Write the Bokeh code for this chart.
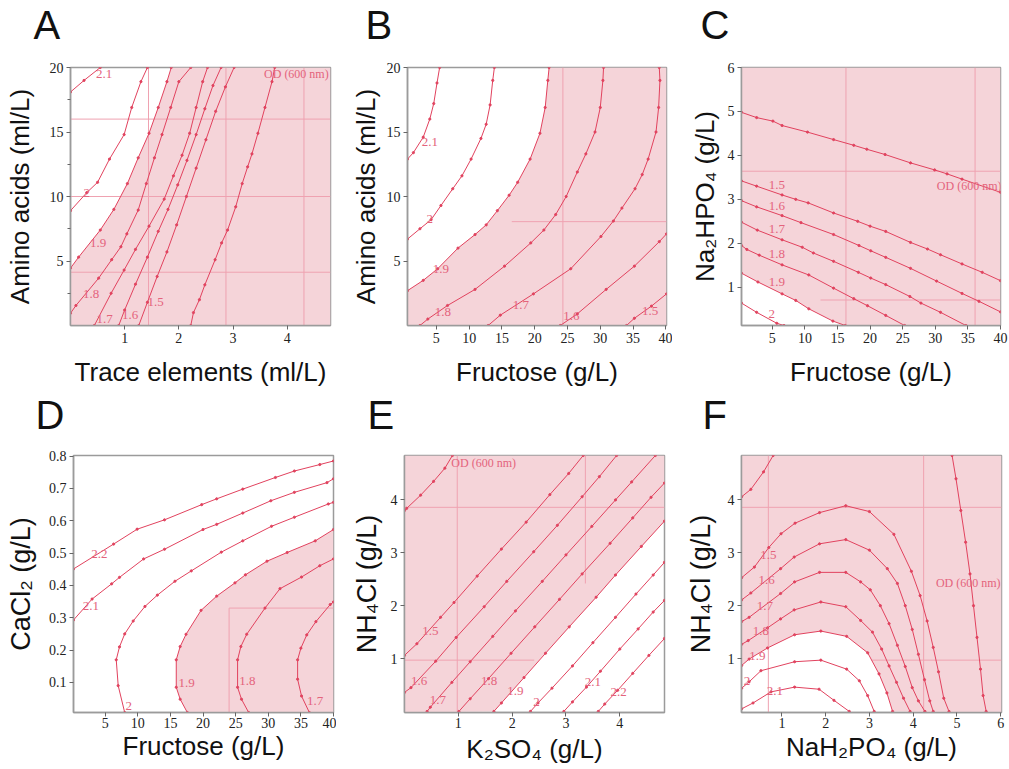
from bokeh.plotting import figure
from bokeh.layouts import column, row
from bokeh.models import Range1d, FixedTicker
from bokeh.core.properties import value
from bokeh.embed import file_html
from bokeh.resources import INLINE

# ---------------------------------------------------------------- data
# Each contour is a list of (x, y) points on an OD(600 nm) iso-line.

# A: trace elements (ml/L) vs amino acids (ml/L)
A_OD21 = [(0.0, 18.1), (0.25, 19.0), (0.55, 20.0)]
A_OD20 = [(0.0, 8.9), (0.3, 10.3), (0.5, 11.1), (0.72, 12.9), (0.99, 14.8), (1.13, 16.9), (1.30, 18.9), (1.42, 20.0)]
A_OD19 = [(0.0, 4.45), (0.15, 5.3), (0.55, 7.4), (0.8, 9.0), (1.05, 11.0), (1.25, 13.0), (1.45, 14.9), (1.62, 16.9), (1.78, 18.9), (1.86, 20.0)]
A_OD18 = [(0.0, 0.95), (0.1, 1.55), (0.52, 3.67), (0.76, 5.1), (0.93, 6.1), (1.04, 7.1), (1.25, 8.95), (1.40, 11.0), (1.55, 13.0), (1.69, 14.8), (1.85, 16.9), (2.0, 18.9), (2.22, 20.0)]
A_OD17 = [(0.44, 0.0), (0.75, 2.5), (0.99, 4.3), (1.2, 5.9), (1.45, 7.7), (1.73, 9.8), (1.9, 11.6), (2.06, 13.2), (2.2, 14.9), (2.32, 16.9), (2.44, 18.9), (2.53, 20.0)]
A_OD16 = [(0.89, 0.0), (1.0, 1.2), (1.2, 3.2), (1.42, 5.3), (1.62, 7.3), (1.8, 9.0), (1.98, 10.9), (2.15, 12.8), (2.32, 14.8), (2.48, 16.8), (2.63, 18.6), (2.78, 20.0)]
A_OD15 = [(1.26, 0.0), (1.42, 1.8), (1.6, 3.8), (1.78, 5.7), (1.96, 7.8), (2.14, 10.0), (2.32, 12.2), (2.5, 14.4), (2.68, 16.6), (2.86, 18.5), (3.02, 20.0)]
A_OD14 = [(2.22, 0.0), (2.27, 1.0), (2.38, 2.0), (2.48, 3.15), (2.67, 5.1), (2.79, 6.4), (2.9, 7.4), (3.05, 9.2), (3.17, 11.0), (3.27, 12.3), (3.35, 13.3), (3.46, 14.9), (3.59, 16.9), (3.72, 18.9), (3.77, 20.0)]

# B: fructose (g/L) vs amino acids (ml/L)
B_OD21 = [(0.6, 12.9), (1.5, 13.4), (3.0, 14.6), (4.0, 16.0), (4.6, 17.2), (5.1, 18.8), (5.5, 20.0)]
B_OD20 = [(0.6, 6.7), (2.5, 7.5), (4.2, 8.2), (5.7, 9.3), (7.5, 10.6), (8.9, 11.6), (10.3, 12.9), (11.8, 14.5), (12.6, 15.6), (13.2, 17.1), (13.6, 19.0), (13.85, 20.0)]
B_OD19 = [(0.6, 2.7), (3.0, 3.5), (5.2, 4.4), (8.3, 6.0), (10.9, 7.05), (12.6, 7.8), (14.3, 8.9), (16.1, 10.1), (17.4, 11.1), (19.3, 12.9), (20.8, 14.9), (21.6, 16.9), (22.0, 19.0), (22.2, 20.0)]
B_OD18 = [(2.5, 0.0), (3.7, 0.5), (6.7, 1.55), (10.9, 2.8), (15.4, 4.6), (19.4, 6.4), (21.4, 7.4), (23.2, 8.6), (24.8, 10.0), (26.5, 11.9), (27.8, 13.3), (29.2, 15.0), (30.0, 16.9), (30.4, 19.0), (30.5, 20.0)]
B_OD17 = [(12.9, 0.0), (14.75, 0.8), (19.8, 2.45), (25.5, 4.4), (30.1, 6.9), (32.0, 8.1), (33.3, 9.1), (35.3, 10.6), (36.4, 11.7), (37.3, 12.9), (38.5, 15.0), (38.9, 16.9), (39.1, 19.0), (39.0, 20.0)]
B_OD16 = [(23.9, 0.0), (26.5, 0.9), (30.9, 2.8), (35.2, 4.6), (39.0, 6.5), (40.1, 7.1)]
B_OD15 = [(34.0, 0.0), (35.2, 0.56), (37.8, 1.5), (40.1, 2.45)]

# C: fructose (g/L) vs Na2HPO4 (g/L)
C_OD14 = [(0.28, 4.98), (2.6, 4.86), (5.1, 4.78), (6.5, 4.68), (10.4, 4.53), (14.4, 4.36), (17.5, 4.23), (19.5, 4.14), (22.3, 4.02), (26.2, 3.83), (29.9, 3.67), (31.8, 3.58), (34.1, 3.46), (40.0, 3.16)]
C_OD15 = [(0.28, 3.42), (2.6, 3.3), (6.5, 3.1), (8.6, 3.0), (10.5, 2.92), (14.4, 2.69), (18.1, 2.5), (20.0, 2.39), (22.4, 2.27), (26.2, 2.02), (28.8, 1.87), (30.8, 1.74), (34.1, 1.53), (37.2, 1.34), (40.0, 1.15)]
C_OD16 = [(0.28, 2.97), (2.6, 2.83), (6.5, 2.63), (9.4, 2.47), (14.4, 2.2), (18.3, 1.95), (20.1, 1.83), (22.4, 1.68), (26.2, 1.43), (30.2, 1.14), (34.1, 0.86), (36.7, 0.68), (40.0, 0.44)]
C_OD17 = [(0.28, 2.48), (2.7, 2.3), (6.5, 2.08), (9.6, 1.91), (11.3, 1.78), (14.4, 1.59), (18.2, 1.34), (20.1, 1.21), (22.4, 1.06), (26.1, 0.79), (27.8, 0.64), (30.8, 0.43), (34.7, 0.13)]
C_OD18 = [(0.28, 1.95), (1.1, 1.86), (3.0, 1.73), (6.5, 1.51), (10.6, 1.28), (14.4, 0.98), (17.5, 0.74), (19.6, 0.58), (22.4, 0.36), (25.3, 0.13)]
C_OD19 = [(0.28, 1.32), (2.8, 1.12), (6.5, 0.85), (8.6, 0.7), (10.6, 0.51), (14.3, 0.23), (16.2, 0.13)]
C_OD20 = [(0.28, 0.64), (2.6, 0.43), (5.7, 0.18), (6.8, 0.13)]

# D: fructose (g/L) vs CaCl2 (g/L)
D_OD22 = [(0.15, 0.451), (6.3, 0.528), (9.9, 0.574), (14.1, 0.603), (19.8, 0.65), (22.1, 0.668), (26.1, 0.698), (31.1, 0.734), (34.0, 0.754), (37.9, 0.774), (40.0, 0.785)]
D_OD21 = [(0.15, 0.293), (3.0, 0.358), (6.0, 0.405), (7.2, 0.425), (10.9, 0.482), (14.1, 0.512), (20.0, 0.573), (22.1, 0.589), (26.1, 0.624), (30.4, 0.662), (34.0, 0.688), (39.0, 0.718), (40.0, 0.73)]
D_OD20 = [(8.0, 0.007), (7.0, 0.09), (6.7, 0.17), (7.2, 0.21), (8.0, 0.25), (9.3, 0.29), (11.1, 0.335), (13.0, 0.37), (15.7, 0.413), (18.2, 0.445), (22.8, 0.503), (26.1, 0.538), (30.5, 0.583), (34.0, 0.611), (39.2, 0.652), (40.0, 0.657)]
D_OD19 = [(17.6, 0.007), (16.5, 0.048), (15.9, 0.085), (15.9, 0.17), (16.5, 0.211), (17.4, 0.249), (19.7, 0.323), (22.1, 0.367), (24.9, 0.408), (26.5, 0.433), (29.8, 0.475), (32.9, 0.502), (37.2, 0.538), (40.0, 0.573)]
D_OD18 = [(27.0, 0.007), (25.9, 0.048), (25.3, 0.085), (25.3, 0.17), (25.8, 0.211), (26.7, 0.249), (29.5, 0.33), (31.8, 0.39), (35.1, 0.426), (37.9, 0.461), (40.0, 0.482)]
D_OD17 = [(36.3, 0.007), (35.1, 0.058), (34.5, 0.11), (34.5, 0.17), (35.0, 0.206), (35.9, 0.247), (37.3, 0.288), (39.5, 0.341), (40.0, 0.349)]

# E: K2SO4 (g/L) vs NH4Cl (g/L)
E_OD14 = [(0.0, 3.8), (0.04, 3.84), (0.30, 4.09), (0.54, 4.35), (0.75, 4.6), (0.89, 4.84)]
E_OD15 = [(0.0, 1.06), (0.23, 1.28), (0.67, 1.78), (0.92, 2.06), (1.35, 2.56), (1.80, 3.07), (2.26, 3.58), (2.70, 4.10), (3.05, 4.50), (3.32, 4.84)]
E_OD16 = [(0.0, 0.36), (0.12, 0.45), (0.58, 0.95), (0.96, 1.40), (1.48, 1.98), (1.90, 2.46), (2.40, 3.02), (2.84, 3.52), (3.30, 4.06), (3.62, 4.44), (3.94, 4.84)]
E_OD17 = [(0.42, 0.0), (0.48, 0.08), (0.88, 0.55), (1.22, 0.94), (1.64, 1.42), (2.06, 1.90), (2.56, 2.46), (3.00, 2.96), (3.48, 3.50), (3.92, 4.00), (4.22, 4.34), (4.66, 4.84)]
E_OD18 = [(1.01, 0.0), (1.22, 0.24), (1.56, 0.62), (1.98, 1.10), (2.42, 1.60), (2.88, 2.12), (3.30, 2.60), (3.82, 3.18), (4.24, 3.66), (4.58, 4.05), (4.83, 4.32)]
E_OD19 = [(1.66, 0.0), (1.80, 0.16), (2.22, 0.64), (2.62, 1.10), (3.06, 1.60), (3.56, 2.16), (3.92, 2.58), (4.40, 3.12), (4.83, 3.60)]
E_OD20 = [(2.34, 0.0), (2.48, 0.16), (2.74, 0.44), (3.12, 0.86), (3.50, 1.30), (3.92, 1.78), (4.30, 2.22), (4.62, 2.58), (4.83, 2.82)]
E_OD21 = [(2.96, 0.0), (3.12, 0.18), (3.38, 0.46), (3.64, 0.76), (4.00, 1.18), (4.34, 1.56), (4.62, 1.88), (4.83, 2.10)]
E_OD22 = [(3.60, 0.0), (3.72, 0.14), (3.96, 0.40), (4.24, 0.72), (4.54, 1.06), (4.83, 1.38)]

# F: NaH2PO4 (g/L) vs NH4Cl (g/L)
F_OD14A = [(0.08, 4.06), (0.29, 4.2), (0.58, 4.53), (0.80, 4.84)]
F_OD14B = [(4.89, 4.84), (4.98, 4.4), (5.09, 3.8), (5.2, 3.2), (5.3, 2.6), (5.38, 2.0), (5.46, 1.4), (5.54, 0.8), (5.6, 0.3), (5.67, 0.0)]
F_OD15 = [(0.08, 2.53), (0.37, 2.73), (0.7, 3.1), (0.98, 3.36), (1.3, 3.56), (1.86, 3.76), (2.46, 3.89), (3.0, 3.78), (3.56, 3.35), (3.96, 2.65), (4.16, 2.19), (4.32, 1.71), (4.46, 1.21), (4.58, 0.75), (4.70, 0.25), (4.82, 0.0)]
F_OD16 = [(0.08, 2.11), (0.29, 2.24), (0.97, 2.70), (1.28, 2.92), (1.86, 3.17), (2.46, 3.25), (3.0, 3.05), (3.41, 2.70), (3.64, 2.42), (3.82, 2.0), (3.98, 1.55), (4.12, 1.08), (4.26, 0.6), (4.38, 0.2), (4.46, 0.0)]
F_OD17 = [(0.08, 1.70), (0.25, 1.78), (0.97, 2.23), (1.29, 2.45), (1.86, 2.63), (2.46, 2.63), (2.80, 2.45), (3.02, 2.30), (3.25, 2.0), (3.45, 1.66), (3.64, 1.25), (3.82, 0.85), (3.98, 0.45), (4.12, 0.2), (4.27, 0.0)]
F_OD18 = [(0.08, 1.27), (0.23, 1.34), (0.67, 1.58), (0.97, 1.75), (1.28, 1.92), (1.89, 2.07), (2.46, 1.98), (2.80, 1.72), (3.07, 1.50), (3.28, 1.18), (3.45, 0.86), (3.62, 0.55), (3.78, 0.25), (3.93, 0.0)]
F_OD19 = [(0.08, 0.87), (0.25, 0.99), (0.67, 1.2), (1.29, 1.45), (1.89, 1.52), (2.48, 1.42), (2.96, 1.11), (3.22, 0.71), (3.4, 0.35), (3.53, 0.0)]
F_OD20 = [(0.08, 0.44), (0.25, 0.56), (0.52, 0.77), (1.29, 0.94), (1.89, 0.97), (2.48, 0.8), (2.77, 0.58), (2.96, 0.3), (3.11, 0.0)]
F_OD21 = [(0.08, 0.05), (0.34, 0.16), (0.75, 0.37), (1.29, 0.46), (1.85, 0.42), (2.19, 0.21), (2.54, 0.0)]

# panel letters of each row
ROW1_LETTERS = ["A", "B", "C"]
ROW2_LETTERS = ["D", "E", "F"]

# ---------------------------------------------------------------- styling
LINE = "#E1425E"
FILL = "#F5D4D9"
TEXT = "#E4637C"
REF = "#EFA2B1"
FRAME = "#9B9B9B"
SERIF = "Liberation Serif"
SANS = "Liberation Sans"
OD_TEXT = "OD (600 nm)"
PAGE_W = 1009
STRIP_H = 45


def letter_strip(letters, xs_px, center_px):
    """A bare pixel-scaled strip that carries the panel letters of one row."""
    s = figure(width=PAGE_W, height=STRIP_H, title=None,
               x_range=Range1d(0, PAGE_W), y_range=Range1d(0, STRIP_H),
               output_backend="svg", toolbar_location=None,
               x_axis_location=None, y_axis_location=None,
               min_border=0, min_border_left=0, min_border_right=0,
               min_border_top=0, min_border_bottom=0)
    s.grid.visible = False
    s.outline_line_color = None
    s.background_fill_color = "white"
    s.border_fill_color = "white"
    s.text(x=xs_px, y=[center_px] * len(letters), text=letters,
           text_font=value(SANS), text_font_size="40px", text_color="#111111",
           text_align="left", text_baseline="middle")
    return s


def panel(borders, frame, xr, yr, xticks, yticks, xlabel, ylabel,
          contours, boundary, corners, refs, od_pos=None, yminor=(),
          x_std=10, y_std=10, tick_std=3, ylab_size="26px"):
    bl, br, bt, bb = borders
    fw, fh = frame
    p = figure(width=bl + fw + br, height=bt + fh + bb, title=None,
               x_range=Range1d(*xr), y_range=Range1d(*yr),
               output_backend="svg", toolbar_location=None,
               min_border_left=bl, min_border_right=br,
               min_border_top=bt, min_border_bottom=bb)
    p.grid.visible = False
    p.background_fill_color = "white"
    p.border_fill_color = "white"
    p.outline_line_color = FRAME
    p.outline_line_width = 1.5

    x0, x1 = xr
    y0, y1 = yr
    corner_xy = {"tl": (x0, y1), "tr": (x1, y1), "bl": (x0, y0), "br": (x1, y0)}

    # region with OD below 1.9, bounded by the 1.9 contour and the frame
    px = [pt[0] for pt in boundary] + [corner_xy[c][0] for c in corners]
    py = [pt[1] for pt in boundary] + [corner_xy[c][1] for c in corners]
    p.patch(px, py, fill_color=FILL, line_color=None)

    # reference cross lines
    p.segment(x0=[r[0] for r in refs], y0=[r[1] for r in refs],
              x1=[r[2] for r in refs], y1=[r[3] for r in refs],
              line_color=REF, line_width=1)

    lx, ly, lt = [], [], []
    for level, pts, lab in contours:
        xs = [pt[0] for pt in pts]
        ys = [pt[1] for pt in pts]
        p.line(xs, ys, line_color=LINE, line_width=1.0)
        p.scatter(xs, ys, size=2.2, marker="circle", color=LINE)
        if lab is not None:
            lx.append(lab[0])
            ly.append(lab[1])
            lt.append(f"{level:g}")
    p.text(x=lx, y=ly, text=lt, text_font=value(SERIF), text_font_size="13px",
           text_color=TEXT, text_align="center", text_baseline="middle")
    if od_pos is not None:
        p.text(x=[od_pos[0]], y=[od_pos[1]], text=[OD_TEXT], text_font=value(SERIF),
               text_font_size="12px", text_color=TEXT, text_align="center",
               text_baseline="middle")

    p.xaxis.ticker = FixedTicker(ticks=xticks)
    p.yaxis.ticker = FixedTicker(ticks=yticks, minor_ticks=list(yminor))
    p.xaxis.axis_label = xlabel
    p.yaxis.axis_label = ylabel
    for ax in (p.xaxis[0], p.yaxis[0]):
        ax.axis_line_color = FRAME
        ax.axis_line_width = 1.5
        ax.major_tick_line_color = "#666666"
        ax.minor_tick_line_color = "#666666"
        ax.major_tick_out = 4
        ax.major_tick_in = 0
        ax.minor_tick_out = 3
        ax.minor_tick_in = 0
        ax.major_label_text_font = SERIF
        ax.major_label_text_font_size = "14px"
        ax.major_label_text_color = "#222222"
        ax.axis_label_text_font = SANS
        ax.axis_label_text_font_style = "normal"
        ax.axis_label_text_color = "#111111"
    p.xaxis.axis_label_text_font_size = "26px"
    p.yaxis.axis_label_text_font_size = ylab_size
    p.xaxis.major_label_standoff = tick_std
    p.yaxis.major_label_standoff = 3
    p.xaxis.axis_label_standoff = x_std
    p.yaxis.axis_label_standoff = y_std
    return p


pA = panel((70, 6, 22, 64), (260, 259), (0.0, 4.8), (0.0, 20.0),
           [1, 2, 3, 4], [5, 10, 15, 20], "Trace elements (ml/L)", "Amino acids (ml/L)",
           [(2.1, A_OD21, (0.62, 19.5)), (2.0, A_OD20, (0.30, 10.26)),
            (1.9, A_OD19, (0.51, 6.36)), (1.8, A_OD18, (0.38, 2.44)),
            (1.7, A_OD17, (0.63, 0.51)), (1.6, A_OD16, (1.10, 0.85)),
            (1.5, A_OD15, (1.57, 1.8)), (1.4, A_OD14, None)],
           A_OD19, ["tr", "br", "bl"],
           [(1.44, 0, 1.44, 20), (2.87, 0, 2.87, 20), (4.31, 0, 4.31, 20),
            (0, 16.0, 4.8, 16.0), (0, 10.0, 4.8, 10.0), (0, 4.13, 4.8, 4.13)],
           od_pos=(4.17, 19.5), yminor=(2.5, 7.5, 12.5, 17.5),
           x_std=11, y_std=12)

pB = panel((71, 6, 22, 63), (259, 260), (0.6, 40.1), (0.0, 20.0),
           [5, 10, 15, 20, 25, 30, 35, 40], [5, 10, 15, 20], "Fructose (g/L)", "Amino acids (ml/L)",
           [(2.1, B_OD21, (4.0, 14.2)), (2.0, B_OD20, (4.0, 8.26)),
            (1.9, B_OD19, (5.7, 4.4)), (1.8, B_OD18, (6.0, 1.08)),
            (1.7, B_OD17, (17.9, 1.6)), (1.6, B_OD16, (25.6, 0.72)),
            (1.5, B_OD15, (37.6, 1.15))],
           B_OD19, ["tr", "br", "bl"],
           [(24.3, 0, 24.3, 20), (16.5, 8.05, 40.1, 8.05)],
           x_std=11, y_std=3)

pC = panel((69, 9, 22, 65), (259, 258), (0.28, 40.0), (0.13, 6.0),
           [5, 10, 15, 20, 25, 30, 35, 40], [1, 2, 3, 4, 5, 6], "Fructose (g/L)", "Na₂HPO₄ (g/L)",
           [(1.4, C_OD14, None), (1.5, C_OD15, (5.7, 3.33)), (1.6, C_OD16, (5.7, 2.84)),
            (1.7, C_OD17, (5.7, 2.32)), (1.8, C_OD18, (5.7, 1.76)),
            (1.9, C_OD19, (5.7, 1.11)), (2.0, C_OD20, (4.9, 0.39))],
           C_OD19, ["br", "tr", "tl"],
           [(16.3, 0.13, 16.3, 6.0), (36.1, 0.13, 36.1, 6.0), (0.28, 3.64, 40.0, 3.64),
            (12.4, 0.71, 40.0, 0.71)],
           od_pos=(35.2, 3.3), x_std=11, y_std=5)

pD = panel((73, 3, 20, 54), (260, 260), (0.15, 40.0), (0.007, 0.802),
           [5, 10, 15, 20, 25, 30, 35, 40], [0.1, 0.2, 0.3, 0.4, 0.5, 0.6, 0.7, 0.8],
           "Fructose (g/L)", "CaCl₂ (g/L)",
           [(2.2, D_OD22, (4.1, 0.497)), (2.1, D_OD21, (2.8, 0.337)),
            (2.0, D_OD20, (8.6, 0.028)), (1.9, D_OD19, (17.5, 0.099)),
            (1.8, D_OD18, (26.8, 0.104)), (1.7, D_OD17, (37.2, 0.043))],
           D_OD19, ["br"],
           [(24.0, 0.007, 24.0, 0.33), (24.0, 0.33, 40.0, 0.33)],
           x_std=0, y_std=10, tick_std=1, ylab_size="27px")

pE = panel((68, 8, 17, 56), (260, 261), (0.0, 4.83), (-0.02, 4.84),
           [1, 2, 3, 4], [1, 2, 3, 4], "K₂SO₄ (g/L)", "NH₄Cl (g/L)",
           [(1.4, E_OD14, None), (1.5, E_OD15, (0.48, 1.52)), (1.6, E_OD16, (0.27, 0.57)),
            (1.7, E_OD17, (0.62, 0.22)), (1.8, E_OD18, (1.57, 0.57)),
            (1.9, E_OD19, (2.06, 0.39)), (2.0, E_OD20, (2.45, 0.18)),
            (2.1, E_OD21, (3.5, 0.55)), (2.2, E_OD22, (3.98, 0.37))],
           E_OD19, ["tr", "tl", "bl"],
           [(0.98, -0.02, 0.98, 4.84), (3.36, 2.42, 3.36, 4.84), (0.0, 3.86, 4.83, 3.86),
            (0.0, 0.97, 2.41, 0.97)],
           od_pos=(1.47, 4.70), x_std=3, y_std=6, tick_std=1, ylab_size="27px")

pF = panel((69, 8, 17, 57), (260, 260), (0.076, 6.02), (-0.02, 4.84),
           [1, 2, 3, 4, 5, 6], [1, 2, 3, 4], "NaH₂PO₄ (g/L)", "NH₄Cl (g/L)",
           [(1.4, F_OD14A, None), (1.4, F_OD14B, None),
            (1.5, F_OD15, (0.69, 2.96)), (1.6, F_OD16, (0.65, 2.48)),
            (1.7, F_OD17, (0.61, 2.0)), (1.8, F_OD18, (0.52, 1.52)),
            (1.9, F_OD19, (0.44, 1.05)), (2.0, F_OD20, (0.2, 0.57)),
            (2.1, F_OD21, (0.84, 0.39))],
           F_OD19, ["br", "tr", "tl"],
           [(0.69, -0.02, 0.69, 4.84), (4.24, -0.02, 4.24, 4.84), (0.076, 3.86, 6.02, 3.86),
            (3.05, 0.97, 6.02, 0.97)],
           od_pos=(5.26, 2.42), x_std=1, y_std=9, tick_std=1, ylab_size="27px")

strip1 = letter_strip(ROW1_LETTERS, [33, 365, 700], 21)
strip2 = letter_strip(ROW2_LETTERS, [35, 367, 702], 21)

layout = column(strip1, row(pA, pB, pC, spacing=0),
                strip2, row(pD, pE, pF, spacing=0), spacing=0)

open("out.html", "w").write(file_html(layout, INLINE, "OD (600 nm) contour plots"))
